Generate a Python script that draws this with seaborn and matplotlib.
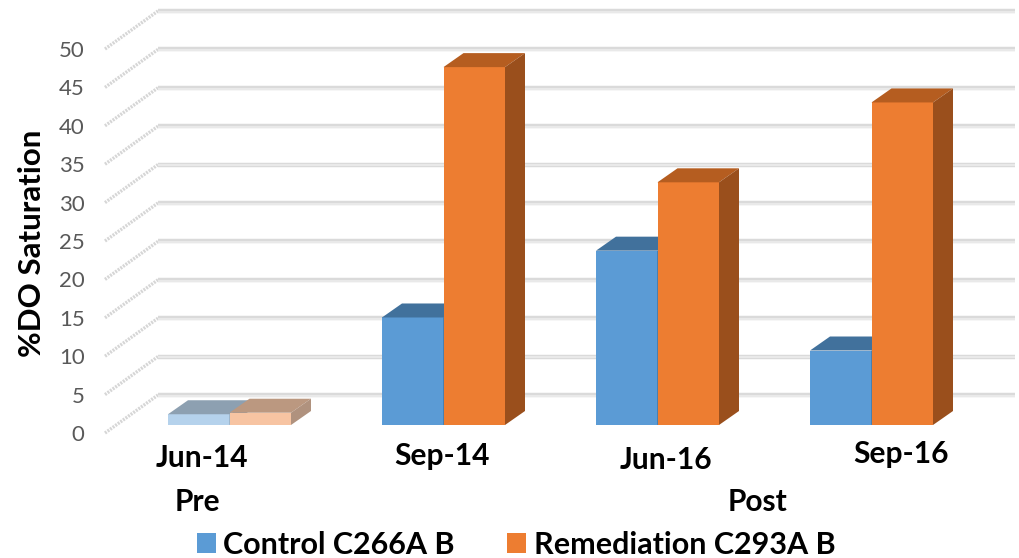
import numpy as np
import pandas as pd
import matplotlib
matplotlib.use('Agg')
import matplotlib.pyplot as plt
from matplotlib.colors import to_rgb
from matplotlib.patches import Patch, Polygon
import seaborn as sns

months = ['Jun-14', 'Sep-14', 'Jun-16', 'Sep-16']
control = [1.4, 14.0, 22.7, 9.7]
remediation = [1.6, 46.6, 31.6, 42.0]
series_names = ['Control C266A B', 'Remediation C293A B']
y_ticks = list(range(0, 55, 5))
periods = ['Pre', 'Post']

W, H = 1019, 558
PX_PER_UNIT = 7.68
PX_PER_MONTH = 214

front = {'Control C266A B': '#5B9BD5', 'Remediation C293A B': '#ED7D31'}
top = {'Control C266A B': '#41719C', 'Remediation C293A B': '#B55D20'}
side = {'Control C266A B': '#38658C', 'Remediation C293A B': '#9A4F1C'}


def fade(color, amount, target):
    # washed out version of a colour for the first month
    return tuple(c + (target - c) * amount for c in to_rgb(color))


df = pd.DataFrame({'month': months * 2,
                   'value': control + remediation,
                   'series': [series_names[0]] * 4 + [series_names[1]] * 4})

sns.set_theme(style='white')
plt.rcParams['font.family'] = ['Lato', 'DejaVu Sans']

fig = plt.figure(figsize=(W / 100, H / 100), dpi=100)


# Both axes fill the figure, ylim puts value 0 on the right pixel row
def make_axes(zero_row, zorder):
    ax = fig.add_axes([0, 0, 1, 1], zorder=zorder)
    ax.patch.set_alpha(0)
    ax.set_ylim((zero_row - H) / PX_PER_UNIT, zero_row / PX_PER_UNIT)
    for s in ax.spines.values():
        s.set_visible(False)
    return ax


# Walls and y ticks, front edge of the chart
wall = make_axes(433, 1)
wall.set_xlim(0, W)
wall.set_xticks([])
wall.set_yticks(y_ticks)
wall.set_yticklabels(y_ticks)
wall.tick_params(axis='y', direction='in', length=0, pad=-61, labelsize=16, labelcolor='#595959')
for label in wall.get_yticklabels():
    label.set_ha('right')
for v in y_ticks:
    wall.plot([105, 158], [v, v + 38 / PX_PER_UNIT], color='#D6D6D6', lw=2.4, ls=(0, (0.6, 0.35)))
    wall.plot([158, 1015], [v + 38 / PX_PER_UNIT] * 2, color='#DADADA', lw=3.2, solid_capstyle='butt')
    wall.plot([158, 1015], [v + 37.3 / PX_PER_UNIT] * 2, color='#EDEDED', lw=1.2, solid_capstyle='butt')

# Bars
ax = make_axes(425, 2)
sns.barplot(data=df, x='month', y='value', hue='series', hue_order=series_names,
            palette=front, width=123 / PX_PER_MONTH, gap=0, saturation=1, legend=False, ax=ax)
ax.set_xlim((0 - 229.5) / PX_PER_MONTH, (W - 229.5) / PX_PER_MONTH)
ax.set_ylim((425 - H) / PX_PER_UNIT, 425 / PX_PER_UNIT)
ax.set_xticks([])
ax.set_yticks([])
ax.set_xlabel('')
ax.set_ylabel('')

dx = 20 / PX_PER_MONTH
dy = 14 / PX_PER_UNIT
for z, (name, bars) in enumerate(zip(series_names, ax.containers)):
    for i, bar in enumerate(bars):
        x0, w, h = bar.get_x(), bar.get_width(), bar.get_height()
        c_front, c_top, c_side = front[name], top[name], side[name]
        if i == 0:
            c_front = fade(c_front, 0.55, 1.0)
            c_top = fade(c_top, 0.6, 0.75)
            c_side = fade(c_side, 0.6, 0.75)
        bar.set_facecolor(c_front)
        bar.set_edgecolor('none')
        bar.set_zorder(3 + z)
        ax.add_patch(Polygon([(x0, h), (x0 + w, h), (x0 + w + dx, h + dy), (x0 + dx, h + dy)],
                             facecolor=c_top, edgecolor='none', zorder=3 + z))
        ax.add_patch(Polygon([(x0 + w, 0), (x0 + w + dx, dy), (x0 + w + dx, h + dy), (x0 + w, h)],
                             facecolor=c_side, edgecolor='none', zorder=3 + z))


# Text boxes sit by hand in the original, so they do not line up with the bars
def label(px, py, text, **kw):
    fig.text(px / W, 1 - py / H, text, ha='center', va='center', fontweight='bold', color='black', **kw)


for px, py, text in zip([202, 442, 666, 901], [458, 456, 460, 454], months):
    label(px, py, text, fontsize=21.5)
for px, text in zip([197, 758], periods):
    label(px, 502, text, fontsize=21.5)
label(32, 243, '%DO Saturation', fontsize=22.5, rotation=90)

handles = [Patch(facecolor=front[n], edgecolor='none', label=n) for n in series_names]
fig.legend(handles=handles, loc='center', bbox_to_anchor=(516 / W, 1 - 545 / H), ncol=2, frameon=False,
           prop={'weight': 'bold', 'size': 22}, handlelength=0.62, handleheight=0.62,
           handletextpad=0.26, columnspacing=1.7, labelcolor='black', borderpad=0, borderaxespad=0)

fig.savefig('out.png', dpi=100)
